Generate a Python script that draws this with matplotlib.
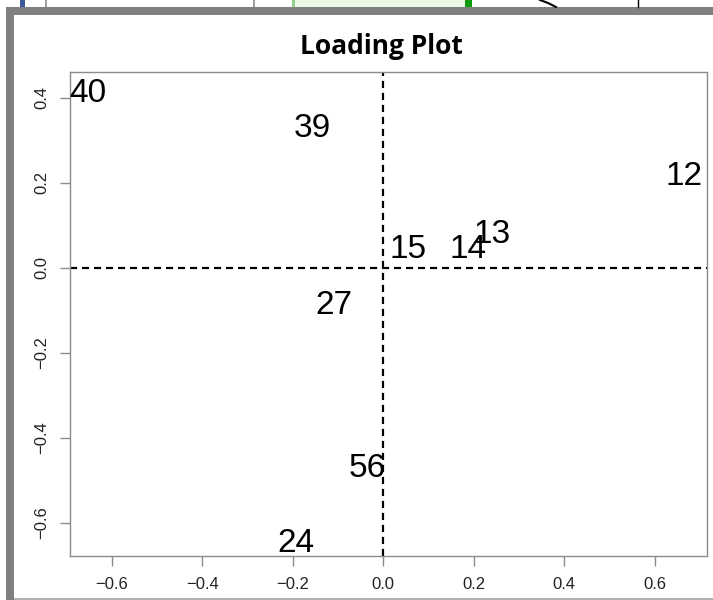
import matplotlib.pyplot as plt
from matplotlib.patches import Rectangle

# loading values per variable (PC1, PC2)
labels = ["40", "39", "12", "15", "14", "13", "27", "56", "24"]
pc1 = [-0.652, -0.157, 0.665, 0.055, 0.188, 0.241, -0.108, -0.035, -0.192]
pc2 = [0.419, 0.336, 0.224, 0.052, 0.052, 0.087, -0.080, -0.464, -0.640]

xticks = [-0.6, -0.4, -0.2, 0.0, 0.2, 0.4, 0.6]
yticks = [-0.6, -0.4, -0.2, 0.0, 0.2, 0.4]

W, H = 713, 600
fig = plt.figure(figsize=(W / 100, H / 100), dpi=100)


def px(x0, y0, w, h):
    # pixel box (top-left origin) -> figure fraction rect
    return [x0 / W, 1 - (y0 + h) / H, w / W, h / H]


# gray window frame and the toolbar scraps above it
bg = fig.add_axes([0, 0, 1, 1])
bg.set_xlim(0, W)
bg.set_ylim(H, 0)
bg.axis("off")
bg.add_patch(Rectangle((6, 7), W - 6, 8, color="#808080", lw=0))
bg.add_patch(Rectangle((6, 7), 8, H - 7, color="#808080", lw=0))
bg.add_patch(Rectangle((14, 598), W - 14, 2, color="#b0b0b0", lw=0))
bg.add_patch(Rectangle((20, 0), 5, 7, color="#3b5b9a", lw=0))
bg.add_patch(Rectangle((45, 0), 2, 7, color="#a0a0a0", lw=0))
bg.add_patch(Rectangle((253, 0), 2, 7, color="#a0a0a0", lw=0))
bg.add_patch(Rectangle((292, 0), 173, 7, color="#eef8e6", lw=0))
bg.add_patch(Rectangle((292, 0), 3, 7, color="#8fd08f", lw=0))
bg.add_patch(Rectangle((465, 0), 7, 7, color="#0a9a0a", lw=0))
bg.plot([540, 548, 556], [0, 3, 7], color="black", lw=1.5)
bg.plot([637.5, 637.5], [0, 7], color="black", lw=1)

fig.text(381 / W, 1 - 47 / H, "Loading Plot", ha="center", va="center",
         fontsize=19, fontweight="bold", family="Open Sans")

ax = fig.add_axes(px(70, 72, 637, 484))
ax.set_xlim(-0.692, 0.716)
ax.set_ylim(-0.678, 0.461)

ax.axvline(0, color="black", lw=1.6, ls=(0, (3.2, 2.2)))
ax.axhline(0, color="black", lw=1.6, ls=(0, (3.2, 2.2)))

for lab, x, y in zip(labels, pc1, pc2):
    ax.text(x, y, lab, ha="center", va="center_baseline", fontsize=24,
            family="Liberation Sans")

ax.set_xticks(xticks)
ax.set_xticklabels([f"{v:.1f}".replace("-", "\u2212") for v in xticks])
ax.set_yticks(yticks)
ax.set_yticklabels([f"{v:.1f}".replace("-", "\u2212") for v in yticks],
                   rotation=90, va="center")
ax.tick_params(length=7, width=1, color="#8c8c8c", labelsize=12, pad=8,
               labelcolor="#222222")
for lbl in ax.get_xticklabels() + ax.get_yticklabels():
    lbl.set_family("Liberation Sans")
for sp in ax.spines.values():
    sp.set_color("#8c8c8c")
    sp.set_linewidth(1)

fig.savefig("out.png", dpi=100)
